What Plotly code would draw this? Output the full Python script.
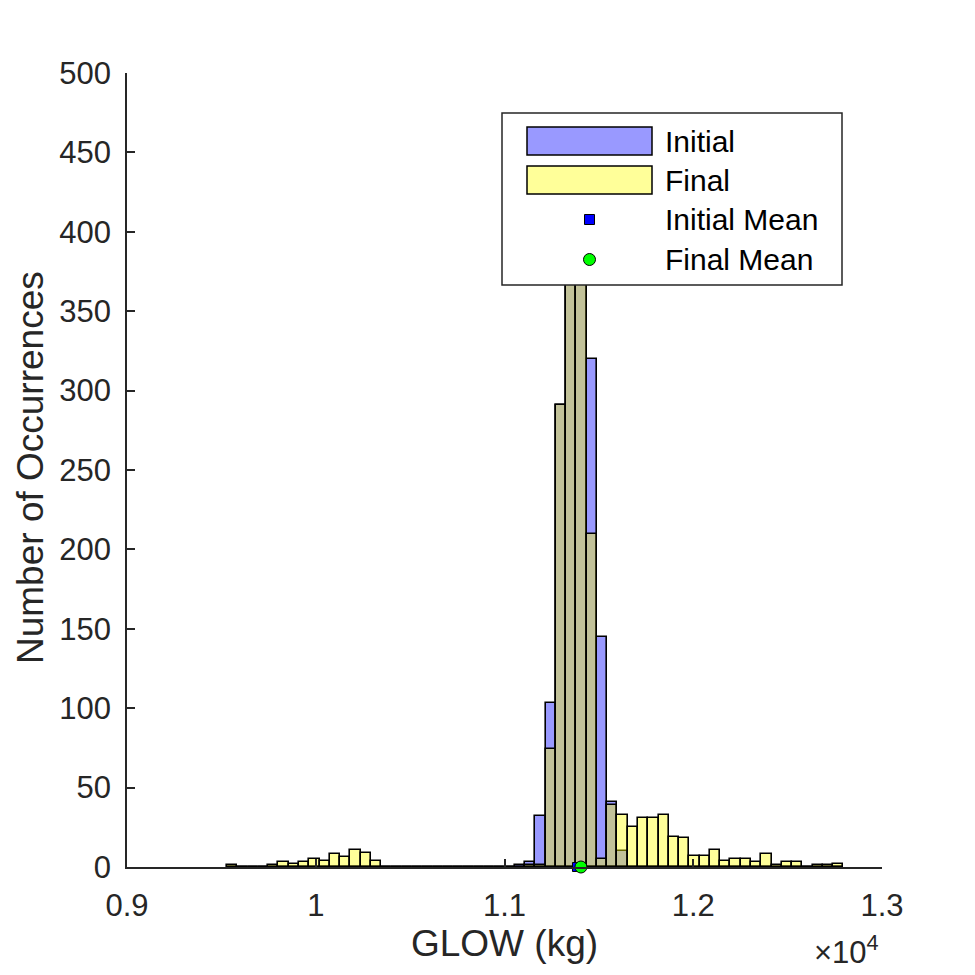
import numpy as np
import plotly.graph_objects as go

# histogram bins (kg), shared by both series
bin_start = 9530
bin_width = 54.43
n_bins = 60

initial_counts = [
    0, 0, 0, 0, 0, 0, 0, 0, 0, 0, 0, 0, 0, 0, 0,
    0, 0, 0, 0, 0, 0, 0, 0, 0, 0, 0, 0, 0, 1,
    3, 32, 103, 291, 440, 430, 320, 145, 41, 10, 0, 0, 0, 0, 0,
    0, 0, 0, 0, 0, 0, 0, 0, 0, 0, 0, 0, 0, 0, 0, 0,
]
final_counts = [
    1, 0, 0, 0, 1, 3, 2, 3, 5, 4, 8, 6, 11, 9, 4,
    0, 0, 0, 0, 0, 0, 0, 0, 0, 0, 0, 0, 0, 0,
    1, 1, 74, 291, 450, 445, 210, 5, 39, 33, 25, 31, 31, 33, 19,
    18, 7, 7, 11, 4, 5, 5, 3, 8, 1, 3, 3, 0, 1, 1, 2,
]
initial_mean = 11384
final_mean = 11405

x_tickvals = [9000, 10000, 11000, 12000, 13000]
x_ticktext = ["0.9", "1", "1.1", "1.2", "1.3"]
y_tickvals = list(range(0, 501, 50))

legend_names = ["Initial", "Final", "Initial Mean", "Final Mean"]

edges = bin_start + bin_width * np.arange(n_bins + 1)
centers = (edges[:-1] + edges[1:]) / 2

FONT = "Liberation Sans, Arial, sans-serif"
AXC = "#262626"

fig = go.Figure()
fig.add_trace(go.Bar(x=centers, y=initial_counts, width=bin_width,
                     marker=dict(color="rgba(0,0,255,0.4)",
                                 line=dict(color="black", width=1.6)),
                     name="Initial"))
fig.add_trace(go.Bar(x=centers, y=final_counts, width=bin_width,
                     marker=dict(color="rgba(255,255,0,0.4)",
                                 line=dict(color="black", width=1.6)),
                     name="Final"))
fig.add_trace(go.Scatter(x=[initial_mean], y=[0], mode="markers", cliponaxis=False,
                         marker=dict(symbol="square", color="blue", size=9,
                                     line=dict(color="black", width=1)),
                         name="Initial Mean"))
fig.add_trace(go.Scatter(x=[final_mean], y=[0], mode="markers", cliponaxis=False,
                         marker=dict(symbol="circle", color="#00ff00", size=12,
                                     line=dict(color="black", width=1)),
                         name="Final Mean"))

# plot area in the reference's pixels (used for the hand-made legend box)
L, R, T, B = 127, 882, 73, 867
# the page body adds an 8px offset, so pull the figure back by that much
OFF = 8


def px(p):
    return (p - L) / (R - L)


def py(p):
    return (B - p) / (B - T)


shapes = [dict(type="rect", xref="paper", yref="paper", x0=px(502), x1=px(842),
               y0=py(285), y1=py(113), fillcolor="white",
               line=dict(color=AXC, width=1.5), layer="above")]
swatches = [("rgb(153,153,255)", 141), ("rgb(255,255,153)", 180)]
for col, yc in swatches:
    shapes.append(dict(type="rect", xref="paper", yref="paper", x0=px(527), x1=px(652),
                       y0=py(yc + 14), y1=py(yc - 14), fillcolor=col,
                       line=dict(color="black", width=1.5), layer="above"))
shapes.append(dict(type="rect", xref="paper", yref="paper", x0=px(584.5), x1=px(594.5),
                   y0=py(224.5), y1=py(214.5), fillcolor="blue",
                   line=dict(color="black", width=1), layer="above"))
shapes.append(dict(type="circle", xref="paper", yref="paper", x0=px(583.5), x1=px(595.5),
                   y0=py(265.5), y1=py(253.5), fillcolor="#00ff00",
                   line=dict(color="black", width=1), layer="above"))

annotations = []
for name, yc in zip(legend_names, [141, 180, 219.5, 259]):
    annotations.append(dict(x=px(663), y=py(yc), xref="paper", yref="paper",
                            text=name, showarrow=False, xanchor="left", yanchor="middle",
                            font=dict(family=FONT, size=30, color="black")))
annotations.append(dict(x=px(881), y=py(950), xref="paper", yref="paper",
                        text="\u00d710<sup>4</sup>", showarrow=False,
                        xanchor="right", yanchor="middle",
                        font=dict(family=FONT, size=31, color=AXC)))
# y axis title placed by hand so it sits as far left as in the original
annotations.append(dict(x=px(30), y=py(468), xref="paper", yref="paper",
                        text="Number of Occurrences", showarrow=False, textangle=-90,
                        xanchor="center", yanchor="middle", borderpad=0,
                        font=dict(family=FONT, size=37, color=AXC)))

fig.update_layout(
    width=975, height=975,
    margin=dict(l=L - OFF, r=975 - R + OFF, t=T - OFF, b=975 - B + OFF),
    paper_bgcolor="white", plot_bgcolor="white",
    barmode="overlay", bargap=0,
    showlegend=False,
    font=dict(family=FONT, size=31, color=AXC),
    shapes=shapes, annotations=annotations,
)
fig.update_xaxes(range=[9000, 13000], tickvals=x_tickvals, ticktext=x_ticktext,
                 showline=True, linecolor=AXC, linewidth=1.5, showgrid=False,
                 zeroline=False, ticks="inside", ticklen=8, tickwidth=1.5,
                 tickcolor=AXC, ticklabelstandoff=10,
                 title=dict(text="GLOW (kg)", font=dict(size=37), standoff=8))
fig.update_yaxes(range=[0, 500], tickvals=y_tickvals,
                 showline=True, linecolor=AXC, linewidth=1.5, showgrid=False,
                 zeroline=False, ticks="inside", ticklen=8, tickwidth=1.5,
                 tickcolor=AXC, ticklabelstandoff=8)

fig.write_html("out.html")
